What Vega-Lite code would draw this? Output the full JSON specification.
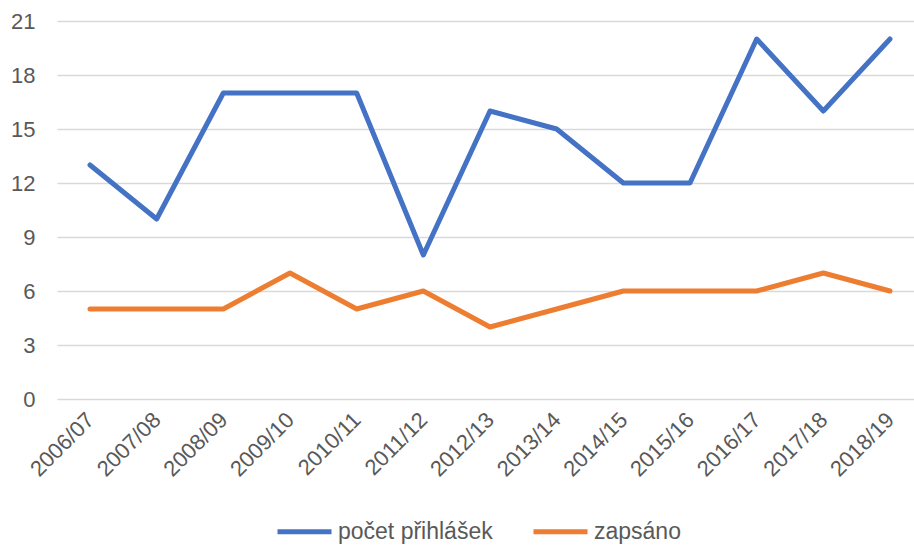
{
  "$schema": "https://vega.github.io/schema/vega-lite/v6.json",
  "width": 857,
  "height": 378,
  "autosize": "none",
  "padding": {"left": 57, "top": 21, "right": 0, "bottom": 147},
  "background": "white",
  "config": {
    "view": {"stroke": null},
    "font": "Liberation Sans"
  },
  "data": {
    "values": [
      {"rok": "2006/07", "serie": "počet přihlášek", "hodnota": 13},
      {"rok": "2007/08", "serie": "počet přihlášek", "hodnota": 10},
      {"rok": "2008/09", "serie": "počet přihlášek", "hodnota": 17},
      {"rok": "2009/10", "serie": "počet přihlášek", "hodnota": 17},
      {"rok": "2010/11", "serie": "počet přihlášek", "hodnota": 17},
      {"rok": "2011/12", "serie": "počet přihlášek", "hodnota": 8},
      {"rok": "2012/13", "serie": "počet přihlášek", "hodnota": 16},
      {"rok": "2013/14", "serie": "počet přihlášek", "hodnota": 15},
      {"rok": "2014/15", "serie": "počet přihlášek", "hodnota": 12},
      {"rok": "2015/16", "serie": "počet přihlášek", "hodnota": 12},
      {"rok": "2016/17", "serie": "počet přihlášek", "hodnota": 20},
      {"rok": "2017/18", "serie": "počet přihlášek", "hodnota": 16},
      {"rok": "2018/19", "serie": "počet přihlášek", "hodnota": 20},
      {"rok": "2006/07", "serie": "zapsáno", "hodnota": 5},
      {"rok": "2007/08", "serie": "zapsáno", "hodnota": 5},
      {"rok": "2008/09", "serie": "zapsáno", "hodnota": 5},
      {"rok": "2009/10", "serie": "zapsáno", "hodnota": 7},
      {"rok": "2010/11", "serie": "zapsáno", "hodnota": 5},
      {"rok": "2011/12", "serie": "zapsáno", "hodnota": 6},
      {"rok": "2012/13", "serie": "zapsáno", "hodnota": 4},
      {"rok": "2013/14", "serie": "zapsáno", "hodnota": 5},
      {"rok": "2014/15", "serie": "zapsáno", "hodnota": 6},
      {"rok": "2015/16", "serie": "zapsáno", "hodnota": 6},
      {"rok": "2016/17", "serie": "zapsáno", "hodnota": 6},
      {"rok": "2017/18", "serie": "zapsáno", "hodnota": 7},
      {"rok": "2018/19", "serie": "zapsáno", "hodnota": 6}
    ]
  },
  "mark": {"type": "line", "strokeWidth": 5, "strokeCap": "round", "strokeJoin": "round"},
  "encoding": {
    "x": {
      "field": "rok",
      "type": "ordinal",
      "scale": {"type": "point", "padding": 0.4275, "align": 0.579},
      "axis": {
        "title": null,
        "domain": false,
        "ticks": false,
        "grid": false,
        "labelAngle": -45,
        "labelAlign": "right",
        "labelBaseline": "middle",
        "labelPadding": 17,
        "labelFontSize": 22,
        "labelColor": "#595959"
      }
    },
    "y": {
      "field": "hodnota",
      "type": "quantitative",
      "scale": {"domain": [0, 21], "nice": false},
      "axis": {
        "title": null,
        "values": [0, 3, 6, 9, 12, 15, 18, 21],
        "domain": false,
        "ticks": false,
        "grid": true,
        "gridColor": "#D9D9D9",
        "gridWidth": 1.5,
        "labelFontSize": 22,
        "labelColor": "#595959",
        "labelPadding": 22
      }
    },
    "color": {
      "field": "serie",
      "type": "nominal",
      "scale": {"domain": ["počet přihlášek", "zapsáno"], "range": ["#4472C4", "#ED7D31"]},
      "legend": {
        "title": null,
        "orient": "none",
        "direction": "horizontal",
        "legendX": 218,
        "legendY": 481,
        "symbolType": "stroke",
        "symbolSize": 2916,
        "symbolStrokeWidth": 5,
        "labelFontSize": 23,
        "labelColor": "#595959",
        "labelOffset": 4,
        "columnPadding": 30
      }
    }
  }
}
